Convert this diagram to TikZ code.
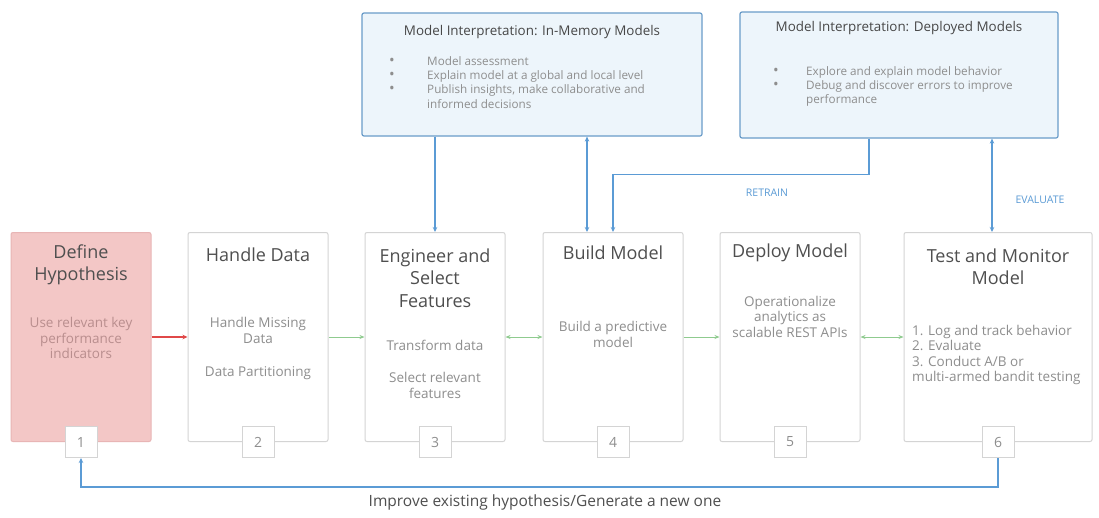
\documentclass[tikz,border=0pt]{standalone}
\usepackage{fontspec}
\setmainfont{Open Sans}
\usetikzlibrary{arrows.meta,calc}
\definecolor{boxgray}{HTML}{D4D4D4}
\definecolor{pinkfill}{HTML}{F3C7C6}
\definecolor{pinkline}{HTML}{E8B5B5}
\definecolor{titlegray}{HTML}{4F4F4F}
\definecolor{bodygray}{HTML}{8E8E8E}
\definecolor{pinktext}{HTML}{B98E8E}
\definecolor{lineblue}{HTML}{5B9BD5}
\definecolor{topfill}{HTML}{EDF5FB}
\definecolor{topline}{HTML}{6A9CC9}
\definecolor{arrgreen}{HTML}{8FCB8F}
\definecolor{arrred}{HTML}{E04848}
\newcommand{\bigbul}{{\fontsize{15}{14}\selectfont •}}
\begin{document}
\begin{tikzpicture}[x=1pt,y=-1pt,
  stepbox/.style={draw=boxgray, line width=1pt, fill=white, rounded corners=2pt, inner sep=0pt, minimum width=140pt, minimum height=209pt},
  numbox/.style={draw=boxgray, line width=1pt, fill=white, minimum width=32pt, minimum height=31pt, inner sep=0pt, text=bodygray, font=\fontsize{14}{16}\selectfont},
  steptitle/.style={text=titlegray, align=center, font=\fontsize{18}{22.5}\selectfont, inner sep=0pt},
  stepbody/.style={text=bodygray, align=center, font=\fontsize{13.5}{15.5}\selectfont, inner sep=0pt},
  topbox/.style={draw=topline, line width=1.2pt, fill=topfill, rounded corners=2pt, inner sep=0pt},
  toptitle/.style={text=titlegray!90!black, font=\fontsize{13.4}{15}\selectfont, inner sep=0pt},
  toplist/.style={text=bodygray, font=\fontsize{11.7}{14.4}\selectfont, inner sep=0pt, anchor=base west},
  blueline/.style={draw=lineblue, line width=1.2pt},
  bluearr/.style={blueline, -{Stealth[length=5pt,width=4.5pt]}},
  bluearrs/.style={blueline, {Stealth[length=5pt,width=4.5pt]}-{Stealth[length=5pt,width=4.5pt]}},
  greenarr/.style={draw=arrgreen, line width=1pt, -{Stealth[length=5pt,width=4pt]}},
  greenarrs/.style={draw=arrgreen, line width=1pt, {Stealth[length=5pt,width=4pt]}-{Stealth[length=5pt,width=4pt]}},
  redarr/.style={draw=arrred, line width=1.2pt, -{Stealth[length=5pt,width=4.5pt]}},
  flowlabel/.style={text=lineblue, font=\fontsize{10.5}{12}\selectfont, inner sep=0pt}]
\fill[white] (0,0) rectangle (1099,517);
\useasboundingbox (0,0) rectangle (1099,517);

% top boxes
\node[topbox, minimum width=340pt, minimum height=123pt] (im) at (532,74.5) {};
\node[toptitle] (imtitle) at (532,32) {Model Interpretation: In-Memory Models};
\node[toplist] (imlist) at (389,65) {\begin{tabular}[t]{@{}p{38pt}@{}l@{}}
\bigbul & Model assessment\\
\bigbul & Explain model at a global and local level\\
\bigbul & Publish insights, make collaborative and\\
 & informed decisions
\end{tabular}};

\node[topbox, minimum width=318pt, minimum height=126pt] (dp) at (899,75) {};
\node[toptitle] (dptitle) at (899,28) {Model Interpretation: Deployed Models};
\node[toplist] (dplist) at (773,75) {\begin{tabular}[t]{@{}p{33pt}@{}l@{}}
\bigbul & Explore and explain model behavior\\
\bigbul & Debug and discover errors to improve\\
 & performance
\end{tabular}};

% step boxes
\node[stepbox, fill=pinkfill, draw=pinkline] (b1) at (81,337) {};
\node[stepbox] (b2) at (258,337) {};
\node[stepbox] (b3) at (435,337) {};
\node[stepbox] (b4) at (613,337) {};
\node[stepbox] (b5) at (790,337) {};
\node[stepbox, minimum width=188pt] (b6) at (998,337) {};

% step texts
\node[steptitle] (t1) at (81,265) {Define\\Hypothesis};
\node[stepbody, text=pinktext] (d1) at (81,338) {Use relevant key\\performance\\indicators};
\node[steptitle] (t2) at (258,255) {Handle Data};
\node[stepbody] (d2a) at (258,330.5) {Handle Missing\\Data};
\node[stepbody] (d2b) at (258,373) {Data Partitioning};
\node[steptitle] (t3) at (435,278) {Engineer and\\Select\\Features};
\node[stepbody] (d3a) at (435,345) {Transform data};
\node[stepbody] (d3b) at (435,385.5) {Select relevant\\features};
\node[steptitle] (t4) at (613,253) {Build Model};
\node[stepbody] (d4) at (613,334.5) {Build a predictive\\model};
\node[steptitle] (t5) at (790,253) {Deploy Model};
\node[stepbody] (d5) at (790,316.5) {Operationalize\\analytics as\\scalable REST APIs};
\node[steptitle] (t6) at (998,266.5) {Test and Monitor\\Model};
\node[stepbody, align=left, anchor=west] (d6) at (912,355) {1. Log and track behavior\\2. Evaluate\\3. Conduct A/B or\\multi-armed bandit testing};

% horizontal flow arrows
\draw[redarr] (b1) -- (b2);
\draw[greenarr] (b2) -- (b3);
\draw[greenarrs] (b3) -- (b4);
\draw[greenarr] (b4) -- (b5);
\draw[greenarrs] (b5) -- (b6);

% vertical connectors to top boxes
\draw[bluearr] (im.south -| b3.north) -- (b3.north);
\draw[bluearrs] ([xshift=-26pt]b4.north) -- ([xshift=-26pt]b4.north |- im.south);
\draw[bluearr] ([xshift=-30pt]dp.south) -- ++(0,36) -| (b4.north);
\draw[bluearrs] ([xshift=-6pt]b6.north |- dp.south) -- ([xshift=-6pt]b6.north);
\node[flowlabel] (retrain) at (767,193) {RETRAIN};
\node[flowlabel] (evaluate) at (1040,200) {EVALUATE};

% number boxes
\node[numbox] (n1) at (b1.south) {1};
\node[numbox] (n2) at (b2.south) {2};
\node[numbox] (n3) at (b3.south) {3};
\node[numbox] (n4) at (b4.south) {4};
\node[numbox] (n5) at (b5.south) {5};
\node[numbox] (n6) at (b6.south) {6};

% feedback loop
\draw[bluearr] (n6.south) -- ++(0,29) -| (n1.south);
\node[text=titlegray, font=\fontsize{15.5}{18}\selectfont, inner sep=0pt] (improve) at (545,502) {Improve existing hypothesis/Generate a new one};
\end{tikzpicture}
\end{document}
